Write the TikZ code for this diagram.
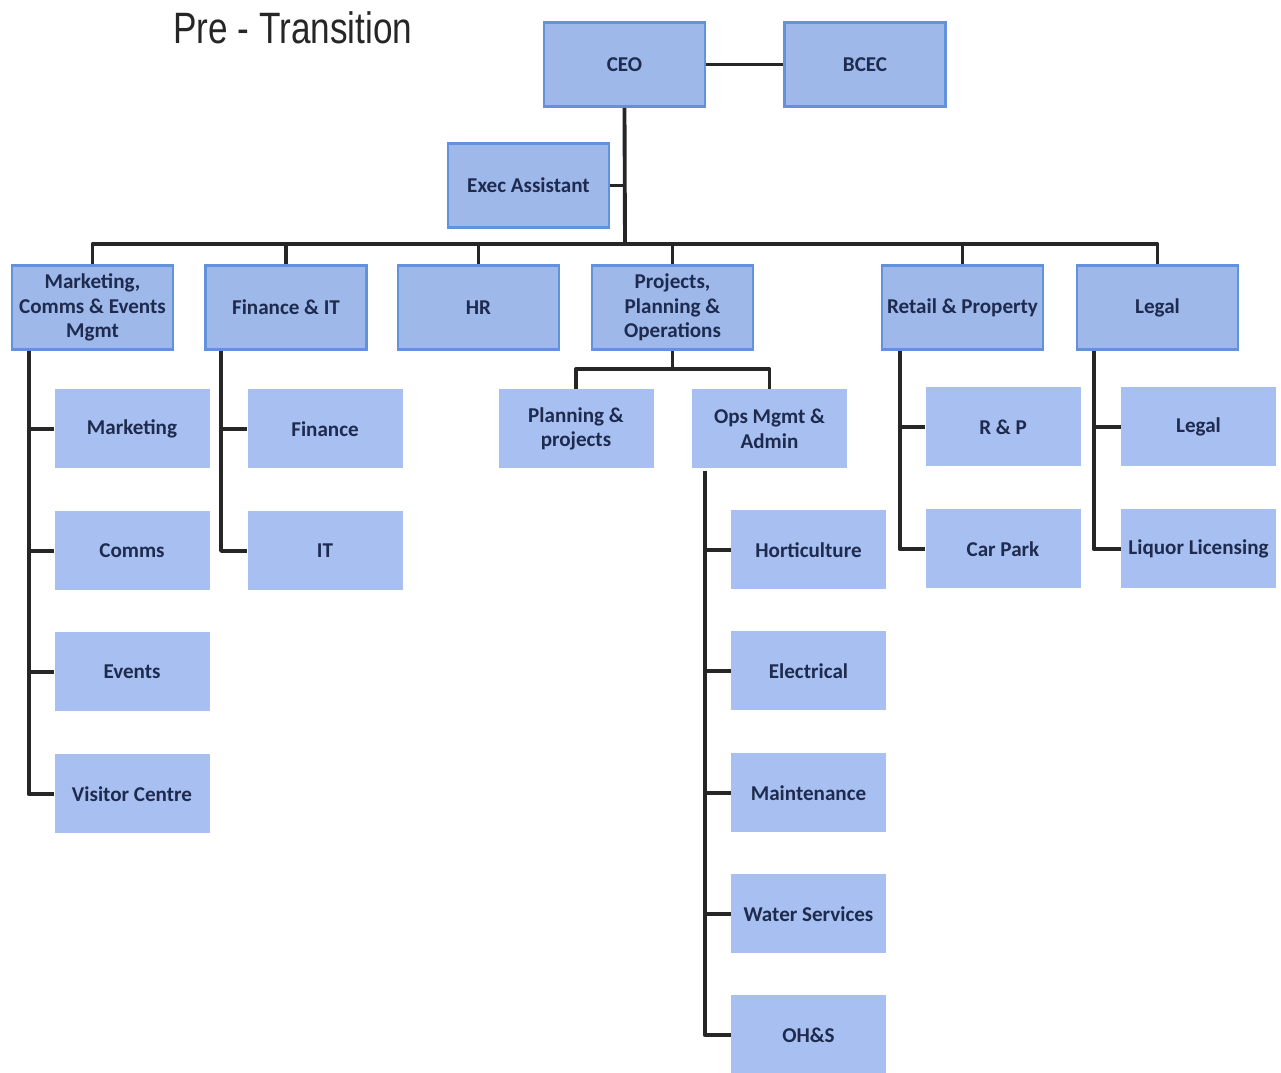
\documentclass[tikz,border=0pt]{standalone}
\usepackage{fontspec}
\setmainfont{Carlito}
\newfontfamily\titlefont{Liberation Sans}
\usepackage{tikz}
\usetikzlibrary{
    positioning,
    calc
}
\definecolor{boxfill}{RGB}{158,184,234}
\definecolor{boxdraw}{RGB}{98,146,220}
\definecolor{subfill}{RGB}{168,192,241}
\definecolor{navytext}{RGB}{30,42,78}

\begin{document}
\begin{tikzpicture}[
  x=1cm,
  y=1cm,
  every node/.style={align=center},
  mainbox/.style={
    draw=boxdraw,
    line width=1.6pt,
    fill=boxfill,
    text=navytext,
    font=\fontsize{12}{14}\selectfont\bfseries,
    minimum width=3.22cm,
    minimum height=1.68cm,
    inner xsep=2pt,
    inner ysep=2pt
  },
  subbox/.style={
    fill=subfill,
    text=navytext,
    font=\fontsize{12}{14}\selectfont\bfseries,
    minimum width=3.10cm,
    minimum height=1.58cm,
    inner xsep=2pt,
    inner ysep=2pt
  },
  wire/.style={line width=2.2pt, black!85, line join=round}
]
  \useasboundingbox (0,0) rectangle (25.62,-21.46);

  % Title.
  \node[font=\titlefont\fontsize{25}{28}\selectfont, text=black!85] (title) at (5.86,-0.56) {\scalebox{0.8}[1]{Pre - Transition}};

  % Top of the chart.
  \node[mainbox] (ceo) at (12.49,-1.29) {CEO};
  \node[mainbox] (bcec) at (17.30,-1.29) {BCEC};
  \node[mainbox] (exec) at (10.57,-3.71) {Exec Assistant};
  \coordinate (bus) at (12.50,-4.88);

  \draw[wire] (ceo.east) -- (bcec.west);
  \draw[wire] (ceo.south) -- (bus);
  \draw[wire] (exec.east) -- (exec.east -| bus);

  % Departments.
  \node[mainbox] (mkt) at (1.85,-6.15) {Marketing,\\Comms \& Events\\Mgmt};
  \node[mainbox] (fin) at (5.72,-6.15) {Finance \& IT};
  \node[mainbox] (hr) at (9.57,-6.15) {HR};
  \node[mainbox] (proj) at (13.45,-6.15) {Projects,\\Planning \&\\Operations};
  \node[mainbox] (retail) at (19.25,-6.15) {Retail \& Property};
  \node[mainbox] (legal) at (23.15,-6.15) {Legal};

  \draw[wire] (mkt.north) |- (bus) -| (legal.north);
  \draw[wire] (fin.north) -- (fin.north |- bus);
  \draw[wire] (hr.north) -- (hr.north |- bus);
  \draw[wire] (proj.north) -- (proj.north |- bus);
  \draw[wire] (retail.north) -- (retail.north |- bus);

  % Marketing, Comms & Events teams.
  \node[subbox] (marketing) at (2.64,-8.58) {Marketing};
  \node[subbox] (comms) at (2.64,-11.02) {Comms};
  \node[subbox] (events) at (2.64,-13.44) {Events};
  \node[subbox] (visitor) at (2.64,-15.88) {Visitor Centre};
  \coordinate (mktspine) at ($(mkt.south west)+(0.36,0)$);
  \draw[wire] (mktspine) |- (visitor.west);
  \draw[wire] (mktspine |- marketing.west) -- (marketing.west);
  \draw[wire] (mktspine |- comms.west) -- (comms.west);
  \draw[wire] (mktspine |- events.west) -- (events.west);

  % Finance & IT teams.
  \node[subbox] (finance) at (6.50,-8.58) {Finance};
  \node[subbox] (it) at (6.50,-11.02) {IT};
  \coordinate (finspine) at ($(fin.south west)+(0.34,0)$);
  \draw[wire] (finspine) |- (it.west);
  \draw[wire] (finspine |- finance.west) -- (finance.west);

  % Projects, Planning & Operations teams.
  \node[subbox] (planproj) at (11.52,-8.58) {Planning \&\\projects};
  \node[subbox] (opsmgmt) at (15.39,-8.58) {Ops Mgmt \&\\Admin};
  \coordinate (projbus) at (13.45,-7.38);
  \draw[wire] (proj.south) -- (projbus);
  \draw[wire] (planproj.north) |- (projbus) -| (opsmgmt.north);

  \node[subbox] (hort) at (16.17,-11.00) {Horticulture};
  \node[subbox] (elec) at (16.17,-13.42) {Electrical};
  \node[subbox] (maint) at (16.17,-15.86) {Maintenance};
  \node[subbox] (water) at (16.17,-18.28) {Water Services};
  \node[subbox] (ohs) at (16.17,-20.70) {OH\&S};
  \coordinate (opsspine) at ($(opsmgmt.south west)+(0.26,-0.04)$);
  \draw[wire] (opsspine) |- (ohs.west);
  \draw[wire] (opsspine |- hort.west) -- (hort.west);
  \draw[wire] (opsspine |- elec.west) -- (elec.west);
  \draw[wire] (opsspine |- maint.west) -- (maint.west);
  \draw[wire] (opsspine |- water.west) -- (water.west);

  % Retail & Property teams.
  \node[subbox] (rp) at (20.06,-8.54) {R \& P};
  \node[subbox] (carpark) at (20.06,-10.98) {Car Park};
  \coordinate (retailspine) at ($(retail.south west)+(0.38,0)$);
  \draw[wire] (retailspine) |- (carpark.west);
  \draw[wire] (retailspine |- rp.west) -- (rp.west);

  % Legal teams.
  \node[subbox] (legalteam) at (23.97,-8.54) {Legal};
  \node[subbox] (liquor) at (23.97,-10.98) {Liquor Licensing};
  \coordinate (legalspine) at ($(legal.south west)+(0.36,0)$);
  \draw[wire] (legalspine) |- (liquor.west);
  \draw[wire] (legalspine |- legalteam.west) -- (legalteam.west);
\end{tikzpicture}
\end{document}
